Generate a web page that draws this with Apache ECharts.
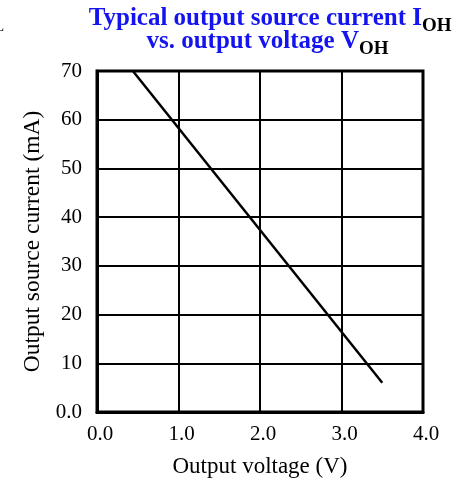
<!DOCTYPE html>
<html>
<head>
<meta charset="utf-8">
<script src="https://cdn.jsdelivr.net/npm/echarts@6/dist/echarts.min.js"></script>
<style>html,body{margin:0;padding:0;background:#fff}#c{width:470px;height:483px}</style>
</head>
<body>
<div id="c"></div>
<script>
// Data
const voltage = [0.44, 3.5];          // Output voltage (V)
const current = [70, 6];              // Output source current (mA)
const xTicks = ['0.0', '1.0', '2.0', '3.0', '4.0'];
const yTicks = ['0.0', '10', '20', '30', '40', '50', '60', '70'];
const titleLine1 = 'Typical output source current I';
const titleLine2 = 'vs. output voltage V';
const subscript = 'OH';

const FONT = '"Liberation Serif", "Times New Roman", serif';
const chart = echarts.init(document.getElementById('c'), null, {renderer: 'canvas'});

chart.setOption({
  animation: false,
  backgroundColor: '#fff',
  grid: {left: 97, top: 71, width: 326, height: 341, show: true, borderColor: '#000', borderWidth: 3, containLabel: false},
  graphic: [
    {type: 'text', left: -5, top: 20, style: {text: 'L', fontFamily: FONT, fontSize: 15, fill: '#000'}},
    {type: 'text', x: 422, y: 18.5, style: {text: titleLine1, fontFamily: FONT, fontWeight: 'bold', fontSize: 25, fill: '#1414ee', align: 'right', verticalAlign: 'middle'}},
    {type: 'text', x: 422, y: 26, style: {text: subscript, fontFamily: FONT, fontWeight: 'bold', fontSize: 19, fill: '#000', align: 'left', verticalAlign: 'middle'}},
    {type: 'text', x: 359, y: 42, style: {text: titleLine2, fontFamily: FONT, fontWeight: 'bold', fontSize: 25, fill: '#1414ee', align: 'right', verticalAlign: 'middle'}},
    {type: 'text', x: 359, y: 49, style: {text: subscript, fontFamily: FONT, fontWeight: 'bold', fontSize: 19, fill: '#000', align: 'left', verticalAlign: 'middle'}}
  ],
  xAxis: {
    type: 'value', min: 0, max: 4, interval: 1,
    name: 'Output voltage (V)', nameLocation: 'middle', nameGap: 43,
    nameTextStyle: {fontFamily: FONT, fontSize: 23, color: '#000'},
    axisLine: {show: true, lineStyle: {color: '#000', width: 3}},
    axisTick: {show: false},
    axisLabel: {fontFamily: FONT, fontSize: 21, color: '#000', margin: 12, padding: [0, 0, 0, 6],
      formatter: (v) => xTicks[Math.round(v)]},
    splitLine: {show: true, lineStyle: {color: '#000', width: 2}}
  },
  yAxis: {
    type: 'value', min: 0, max: 70, interval: 10,
    name: 'Output source current (mA)', nameLocation: 'middle', nameGap: 52,
    nameTextStyle: {fontFamily: FONT, fontSize: 23.5, color: '#000'},
    axisLine: {show: true, lineStyle: {color: '#000', width: 3}},
    axisTick: {show: false},
    axisLabel: {fontFamily: FONT, fontSize: 21, color: '#000', margin: 15,
      formatter: (v) => yTicks[Math.round(v / 10)]},
    splitLine: {show: true, lineStyle: {color: '#000', width: 2}}
  },
  series: [{
    type: 'line',
    data: voltage.map((v, i) => [v, current[i]]),
    symbol: 'none',
    lineStyle: {color: '#000', width: 2.5},
    z: 5
  }]
});
</script>
</body>
</html>
